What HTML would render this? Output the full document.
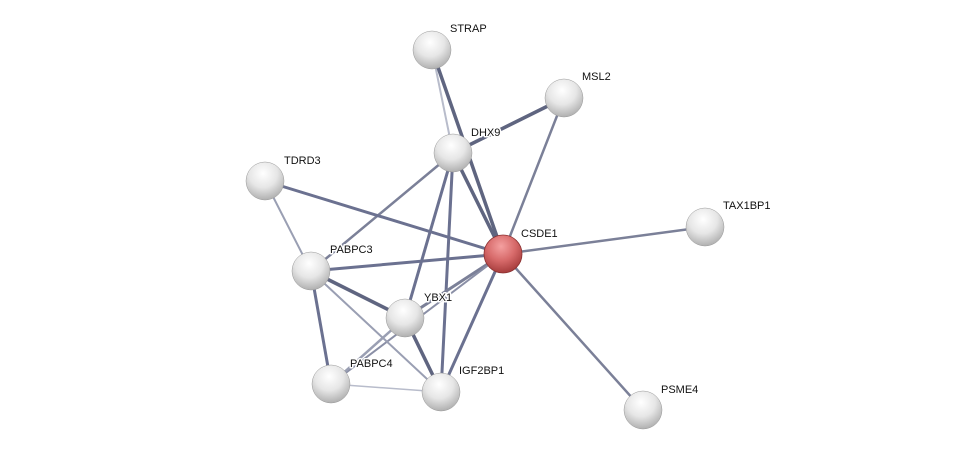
<!DOCTYPE html>
<html><head><meta charset="utf-8">
<style>
html,body{margin:0;padding:0;background:#fff;}
svg{display:block;}
text{font-family:"Liberation Sans",sans-serif;font-size:11px;fill:#111;paint-order:stroke;stroke:#fff;stroke-width:3px;stroke-linejoin:round;}
</style></head><body>
<svg width="975" height="456" viewBox="0 0 975 456" xmlns="http://www.w3.org/2000/svg">
<defs>
<radialGradient id="g" cx="0.45" cy="0.3" r="0.75">
<stop offset="0" stop-color="#ffffff"/><stop offset="0.5" stop-color="#e6e6e6"/><stop offset="1" stop-color="#a8a8a8"/>
</radialGradient>
<radialGradient id="r" cx="0.45" cy="0.3" r="0.75">
<stop offset="0" stop-color="#f4a0a0"/><stop offset="0.5" stop-color="#d76a6a"/><stop offset="1" stop-color="#9e3535"/>
</radialGradient>
</defs>
<g stroke-linecap="round">
<line x1="432" y1="50" x2="453" y2="153" stroke="#b8bccb" stroke-width="2"/>
<line x1="432" y1="50" x2="503" y2="254" stroke="#5f6580" stroke-width="3.5"/>
<line x1="564" y1="98" x2="453" y2="153" stroke="#5f6580" stroke-width="3.5"/>
<line x1="564" y1="98" x2="503" y2="254" stroke="#7b8098" stroke-width="2.5"/>
<line x1="453" y1="153" x2="503" y2="254" stroke="#5f6580" stroke-width="3.5"/>
<line x1="453" y1="153" x2="311" y2="271" stroke="#7b8098" stroke-width="2.5"/>
<line x1="453" y1="153" x2="405" y2="318" stroke="#6b7190" stroke-width="3"/>
<line x1="453" y1="153" x2="441" y2="392" stroke="#6b7190" stroke-width="3"/>
<line x1="265" y1="181" x2="503" y2="254" stroke="#6b7190" stroke-width="3"/>
<line x1="265" y1="181" x2="311" y2="271" stroke="#9a9fb3" stroke-width="2"/>
<line x1="705" y1="227" x2="503" y2="254" stroke="#7b8098" stroke-width="2.5"/>
<line x1="311" y1="271" x2="503" y2="254" stroke="#6b7190" stroke-width="3"/>
<line x1="405" y1="318" x2="503" y2="254" stroke="#7b8098" stroke-width="3"/>
<line x1="331" y1="384" x2="503" y2="254" stroke="#8a8fa6" stroke-width="2"/>
<line x1="441" y1="392" x2="503" y2="254" stroke="#6b7190" stroke-width="3"/>
<line x1="643" y1="410" x2="503" y2="254" stroke="#7b8098" stroke-width="2.5"/>
<line x1="311" y1="271" x2="405" y2="318" stroke="#5f6580" stroke-width="3.5"/>
<line x1="311" y1="271" x2="331" y2="384" stroke="#6b7190" stroke-width="3"/>
<line x1="311" y1="271" x2="441" y2="392" stroke="#9a9fb3" stroke-width="2"/>
<line x1="405" y1="318" x2="331" y2="384" stroke="#9a9fb3" stroke-width="2.5"/>
<line x1="405" y1="318" x2="441" y2="392" stroke="#5f6580" stroke-width="3.5"/>
<line x1="331" y1="384" x2="441" y2="392" stroke="#b8bccb" stroke-width="1.5"/>
</g>
<g>
<circle cx="432" cy="50" r="19" fill="url(#g)" stroke="#999" stroke-width="0.5"/>
<circle cx="564" cy="98" r="19" fill="url(#g)" stroke="#999" stroke-width="0.5"/>
<circle cx="453" cy="153" r="19" fill="url(#g)" stroke="#999" stroke-width="0.5"/>
<circle cx="265" cy="181" r="19" fill="url(#g)" stroke="#999" stroke-width="0.5"/>
<circle cx="705" cy="227" r="19" fill="url(#g)" stroke="#999" stroke-width="0.5"/>
<circle cx="503" cy="254" r="19" fill="url(#r)" stroke="#8a3030" stroke-width="0.8"/>
<circle cx="311" cy="271" r="19" fill="url(#g)" stroke="#999" stroke-width="0.5"/>
<circle cx="405" cy="318" r="19" fill="url(#g)" stroke="#999" stroke-width="0.5"/>
<circle cx="331" cy="384" r="19" fill="url(#g)" stroke="#999" stroke-width="0.5"/>
<circle cx="441" cy="392" r="19" fill="url(#g)" stroke="#999" stroke-width="0.5"/>
<circle cx="643" cy="410" r="19" fill="url(#g)" stroke="#999" stroke-width="0.5"/>
</g>
<text x="450" y="32">STRAP</text>
<text x="582" y="80">MSL2</text>
<text x="471" y="136">DHX9</text>
<text x="284" y="164">TDRD3</text>
<text x="723" y="209">TAX1BP1</text>
<text x="521" y="237">CSDE1</text>
<text x="330" y="253">PABPC3</text>
<text x="424" y="301">YBX1</text>
<text x="350" y="367">PABPC4</text>
<text x="459" y="374">IGF2BP1</text>
<text x="661" y="393">PSME4</text>
</svg>
</body></html>
